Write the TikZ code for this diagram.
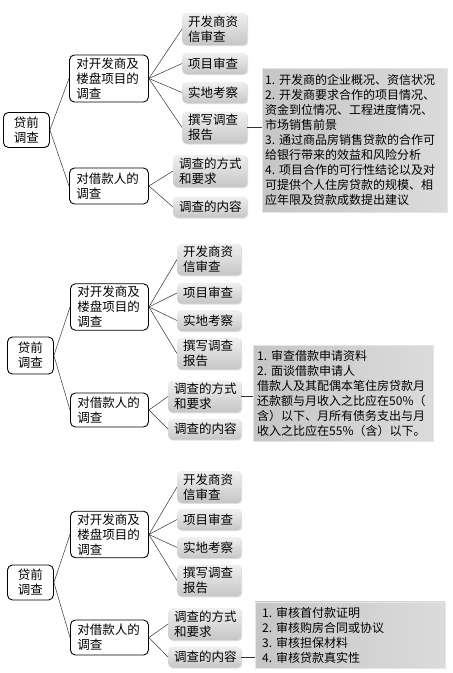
\documentclass[tikz,border=0pt]{standalone}
\usepackage{fontspec}
\setmainfont{Noto Sans CJK SC}
\usepackage{tikz}
\usetikzlibrary{positioning}
\usetikzlibrary{shadows}

\tikzset{
	rootbox/.style={draw, line width=0.9pt, rounded corners=5pt, fill=white,
		anchor=west, align=center, text width=25pt, inner xsep=10.5pt, inner ysep=2.5pt,
		font=\fontsize{12.5}{15}\selectfont},
	midbox/.style={draw, line width=0.9pt, rounded corners=5pt, fill=white,
		anchor=west, align=left, text width=64pt, inner xsep=7pt, inner ysep=2.5pt,
		font=\fontsize{12.5}{15}\selectfont},
	leafbox/.style={rounded corners=4pt, top color=gray!12, bottom color=gray!45,
		drop shadow={opacity=0.25, shadow xshift=1pt, shadow yshift=-1pt},
		anchor=west, align=left, text width=52pt, inner xsep=6pt, inner ysep=2.5pt,
		minimum height=21pt, font=\fontsize{12.5}{15}\selectfont},
	wideleaf/.style={leafbox, text width=61pt},
	notebox/.style={draw=gray!20, left color=gray!45, right color=gray!28,
		anchor=west, align=left, inner xsep=3pt, inner ysep=5pt,
		font=\fontsize{12}{15}\selectfont},
	link/.style={draw, line width=0.5pt, black!80}
}

\begin{document}
\begin{tikzpicture}[x=1pt, y=-1pt]
\useasboundingbox[fill=white] (0,0) rectangle (453,673);

% first tree
\node[rootbox, minimum height=35pt] (a root) at (3,130) {贷前\\调查};
\node[midbox, minimum height=47pt, text width=65pt] (a dev) at (69,78.5) {对开发商及\\楼盘项目的\\调查};
\node[midbox, minimum height=36pt, text width=65pt] (a lend) at (69,186) {对借款人的\\调查};
\node[leafbox, text width=53pt, minimum height=32pt] (a credit) at (182,29) {开发商资\\信审查};
\node[leafbox, text width=53pt] (a project) at (182,63.5) {项目审查};
\node[leafbox, text width=53pt] (a site) at (182,92.5) {实地考察};
\node[leafbox, text width=53pt, minimum height=32pt] (a report) at (182,127.5) {撰写调查\\报告};
\node[wideleaf, text width=62pt, minimum height=32pt] (a way) at (173,171) {调查的方式\\和要求};
\node[wideleaf, text width=62pt] (a content) at (173,207) {调查的内容};
\node[notebox, text width=179pt, minimum height=144pt] (a note) at (262,140)
	{1.~开发商的企业概况、资信状况\\
	2.~开发商要求合作的项目情况、\\
	资金到位情况、工程进度情况、\\
	市场销售前景\\
	3.~通过商品房销售贷款的合作可\\
	给银行带来的效益和风险分析\\
	4.~项目合作的可行性结论以及对\\
	可提供个人住房贷款的规模、相\\
	应年限及贷款成数提出建议};
\draw[link] (a root.east) -- (a dev.west);
\draw[link] (a root.east) -- (a lend.west);
\foreach \leaf in {credit,project,site,report}
	\draw[link] (a dev.east) -- (a \leaf.west);
\draw[link] (a lend.east) -- (a way.west);
\draw[link] (a lend.east) -- (a content.west);
\draw[link] (a report.east) -- (a report.east -| a note.west);

% second tree
\node[rootbox, minimum height=37pt] (b root) at (7,355.5) {贷前\\调查};
\node[midbox, minimum height=44pt] (b dev) at (70,307) {对开发商及\\楼盘项目的\\调查};
\node[midbox, minimum height=34pt] (b lend) at (70,410) {对借款人的\\调查};
\node[leafbox, minimum height=31pt] (b credit) at (177,259.5) {开发商资\\信审查};
\node[leafbox] (b project) at (177,293) {项目审查};
\node[leafbox] (b site) at (177,320.5) {实地考察};
\node[leafbox, minimum height=31pt] (b report) at (177,353.5) {撰写调查\\报告};
\node[wideleaf, minimum height=31pt] (b way) at (168,396.5) {调查的方式\\和要求};
\node[wideleaf] (b content) at (168,429) {调查的内容};
\node[notebox, text width=172pt, inner xsep=4pt, minimum height=93pt] (b note) at (253,393.5)
	{1.~审查借款申请资料\\
	2.~面谈借款申请人\\
	借款人及其配偶本笔住房贷款月\\
	还款额与月收入之比应在50\%（\\
	含）以下、月所有债务支出与月\\
	收入之比应在55\%（含）以下。};
\draw[link] (b root.east) -- (b dev.west);
\draw[link] (b root.east) -- (b lend.west);
\foreach \leaf in {credit,project,site,report}
	\draw[link] (b dev.east) -- (b \leaf.west);
\draw[link] (b lend.east) -- (b way.west);
\draw[link] (b lend.east) -- (b content.west);
\draw[link] (b way.east) -- (b way.east -| b note.west);

% third tree
\node[rootbox, minimum height=35pt] (c root) at (7,582.5) {贷前\\调查};
\node[midbox, minimum height=45pt] (c dev) at (70,534.5) {对开发商及\\楼盘项目的\\调查};
\node[midbox, minimum height=35pt] (c lend) at (70,637.5) {对借款人的\\调查};
\node[leafbox, minimum height=30pt] (c credit) at (177,487) {开发商资\\信审查};
\node[leafbox] (c project) at (177,519.5) {项目审查};
\node[leafbox] (c site) at (177,547.5) {实地考察};
\node[leafbox, minimum height=31pt] (c report) at (177,580.5) {撰写调查\\报告};
\node[wideleaf, minimum height=32pt] (c way) at (168,624) {调查的方式\\和要求};
\node[wideleaf] (c content) at (168,657) {调查的内容};
\node[notebox, text width=176pt, minimum height=64pt, inner xsep=7pt] (c note) at (255,635)
	{1.~审核首付款证明\\
	2.~审核购房合同或协议\\
	3.~审核担保材料\\
	4.~审核贷款真实性};
\draw[link] (c root.east) -- (c dev.west);
\draw[link] (c root.east) -- (c lend.west);
\foreach \leaf in {credit,project,site,report}
	\draw[link] (c dev.east) -- (c \leaf.west);
\draw[link] (c lend.east) -- (c way.west);
\draw[link] (c lend.east) -- (c content.west);
\draw[link] (c content.east) -- (c content.east -| c note.west);
\end{tikzpicture}
\end{document}
